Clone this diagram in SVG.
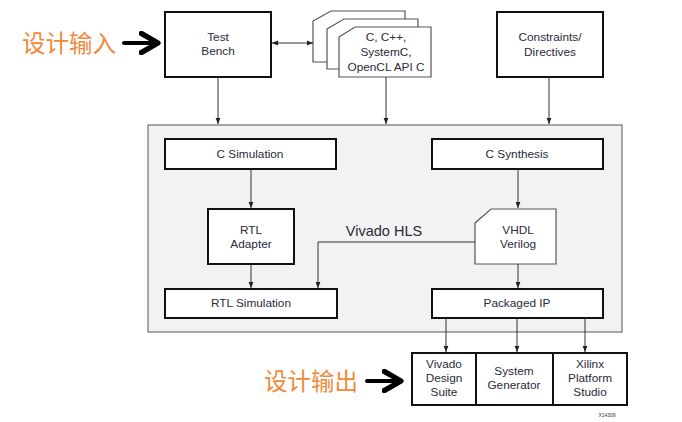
<svg xmlns="http://www.w3.org/2000/svg" width="682" height="422" viewBox="0 0 682 422">
<defs>
<marker id="ah" viewBox="0 0 10 10" refX="10" refY="5" markerWidth="6" markerHeight="6" orient="auto-start-reverse" markerUnits="userSpaceOnUse"><path d="M0,1 L10,5 L0,9 z" fill="#222"/></marker>
<marker id="big" viewBox="0 0 10 10" refX="8" refY="5" markerWidth="6" markerHeight="6" orient="auto"><path d="M1,1 L8,5 L1,9" fill="none" stroke="#000" stroke-width="2.2" stroke-linecap="round" stroke-linejoin="round"/></marker>
</defs>
<style>
.box{fill:#fff;stroke:#111;stroke-width:2}
.doc{fill:#fff;stroke:#555;stroke-width:1.2}
.t{font-family:"Liberation Sans",Arial,sans-serif;font-size:11.8px;fill:#2a2a38;text-anchor:middle}
.cn{font-family:"Noto Sans CJK SC",sans-serif;font-size:23.5px;fill:#f0893a}
.ln{fill:none;stroke:#333;stroke-width:1}
.arr{fill:none;stroke:#333;stroke-width:1;marker-end:url(#ah)}
</style>
<rect width="682" height="422" fill="#fff"/>
<g id="container"><rect x="148" y="125" width="474" height="207" fill="#f2f2f2" stroke="#555" stroke-width="1"/></g>
<g id="label-in"><text class="cn" x="22" y="52">设计输入</text></g>
<g id="label-out"><text class="cn" x="264" y="390">设计输出</text></g>
<g id="testbench"><rect class="box" x="165" y="12" width="106" height="65"/><text class="t" x="218" y="41">Test</text><text class="t" x="218" y="55">Bench</text></g>
<g id="sources">
<path class="doc" d="M313,21 L331,11 L405,11 L405,62 L313,62 Z"/>
<path class="doc" d="M327,29 L344,19 L418,19 L418,69 L327,69 Z"/>
<path class="doc" d="M339,37 L355,27 L431,27 L431,77 L339,77 Z"/>
<text class="t" x="386" y="41">C, C++,</text><text class="t" x="386" y="56">SystemC,</text><text class="t" x="386" y="71">OpenCL API C</text>
</g>
<g id="constraints"><rect class="box" x="497" y="12" width="106" height="65"/><text class="t" x="550" y="41">Constraints/</text><text class="t" x="550" y="56">Directives</text></g>
<g id="csim"><rect class="box" x="165" y="139" width="171" height="30"/><text class="t" x="250" y="158">C Simulation</text></g>
<g id="csynth"><rect class="box" x="432" y="139" width="171" height="30"/><text class="t" x="517" y="158">C Synthesis</text></g>
<g id="rtladapter"><rect class="box" x="208" y="209" width="86" height="55"/><text class="t" x="251" y="234">RTL</text><text class="t" x="251" y="248">Adapter</text></g>
<g id="vhdl"><path class="doc" d="M475,223 L491,209 L556,209 L556,264 L475,264 Z"/><text class="t" x="518" y="234">VHDL</text><text class="t" x="518" y="248">Verilog</text></g>
<g id="rtlsim"><rect class="box" x="165" y="289" width="172" height="29"/><text class="t" x="251" y="307">RTL Simulation</text></g>
<g id="packagedip"><rect class="box" x="432" y="289" width="171" height="29"/><text class="t" x="517" y="307">Packaged IP</text></g>
<g id="vivadohls"><text x="384" y="236" font-family="Liberation Sans,Arial,sans-serif" font-size="14.5" fill="#2a2a38" text-anchor="middle">Vivado HLS</text></g>
<g id="outputs">
<rect class="box" x="412" y="353" width="215" height="52"/>
<line x1="476" y1="353" x2="476" y2="405" stroke="#111" stroke-width="2"/>
<line x1="553" y1="353" x2="553" y2="405" stroke="#111" stroke-width="2"/>
<text class="t" x="444" y="368">Vivado</text><text class="t" x="444" y="382">Design</text><text class="t" x="444" y="396">Suite</text>
<text class="t" x="514" y="375">System</text><text class="t" x="514" y="389">Generator</text>
<text class="t" x="590" y="368">Xilinx</text><text class="t" x="590" y="382">Platform</text><text class="t" x="590" y="396">Studio</text>
</g>
<g id="tag"><text x="607" y="417" font-family="Liberation Sans,Arial,sans-serif" font-size="5" fill="#333" text-anchor="middle">X14309</text></g>
<g id="connectors">
<line x1="272" y1="43" x2="313" y2="43" class="ln" marker-start="url(#ah)" marker-end="url(#ah)"/>
<line x1="218" y1="77" x2="218" y2="124" class="arr"/>
<line x1="386" y1="77" x2="386" y2="124" class="arr"/>
<line x1="549" y1="77" x2="549" y2="124" class="arr"/>
<line x1="251" y1="169" x2="251" y2="208" class="arr"/>
<line x1="251" y1="264" x2="251" y2="288" class="arr"/>
<line x1="518" y1="169" x2="518" y2="208" class="arr"/>
<line x1="518" y1="264" x2="518" y2="288" class="arr"/>
<polyline points="475,242 318,242 318,288" class="arr"/>
<line x1="446" y1="318" x2="446" y2="352" class="arr"/>
<line x1="517" y1="318" x2="517" y2="352" class="arr"/>
<line x1="585" y1="318" x2="585" y2="352" class="arr"/>
<line x1="124" y1="43" x2="158" y2="43" stroke="#000" stroke-width="4" stroke-linecap="round" marker-end="url(#big)"/>
<line x1="367" y1="381" x2="401" y2="381" stroke="#000" stroke-width="4" stroke-linecap="round" marker-end="url(#big)"/>
</g>
</svg>
